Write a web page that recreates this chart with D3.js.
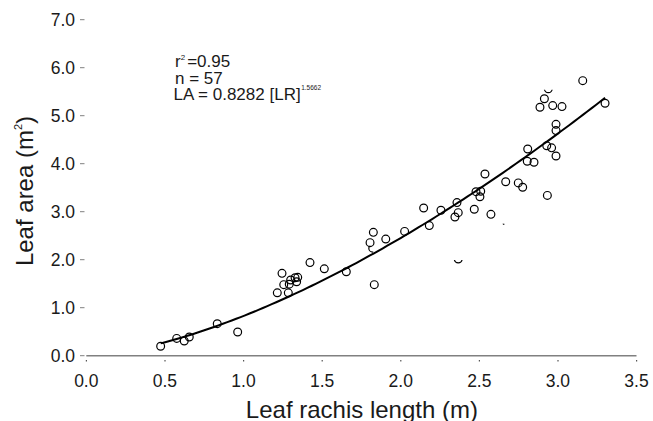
<!DOCTYPE html>
<html>
<head>
<meta charset="utf-8">
<script src="https://cdn.jsdelivr.net/npm/d3@7"></script>
<style>
  html, body { margin: 0; padding: 0; background: #fff; }
  svg { display: block; font-family: "Liberation Sans", Arial, sans-serif; }
</style>
</head>
<body>
<svg id="chart" width="653" height="421"></svg>
<script>
// Leaf rachis length (m)
const lrValues = [
  0.473, 0.575, 0.623, 0.655, 0.833, 0.963,
  1.215, 1.245, 1.256, 1.285, 1.291, 1.300, 1.328, 1.338, 1.345,
  1.423, 1.514, 1.654,
  1.826, 1.805, 1.822, 1.905, 1.832,
  2.025, 2.146, 2.182, 2.256, 2.358, 2.366, 2.345, 2.468, 2.536,
  2.479, 2.509, 2.504, 2.574, 2.668, 2.748, 2.366, 2.659,
  3.158, 2.939, 2.914, 2.886, 2.967, 3.026, 3.300,
  2.988, 2.988, 2.808, 2.929, 2.960, 2.988, 2.805, 2.848, 2.776, 2.933
];
// Leaf area (m2)
const laValues = [
  0.196, 0.360, 0.306, 0.390, 0.667, 0.494,
  1.310, 1.716, 1.480, 1.310, 1.490, 1.577, 1.625, 1.540, 1.633,
  1.940, 1.810, 1.750,
  2.570, 2.355, 2.240, 2.430, 1.480,
  2.590, 3.077, 2.710, 3.030, 3.190, 2.980, 2.890, 3.050, 3.785,
  3.417, 3.425, 3.310, 2.945, 3.625, 3.600, 2.015, 2.820,
  5.730, 5.560, 5.354, 5.175, 5.210, 5.190, 5.260,
  4.820, 4.690, 4.306, 4.375, 4.330, 4.160, 4.050, 4.030, 3.510, 3.340
];
// power fit LA = a * LR^b (coefficients printed on the chart)
const fitA = 0.8282;
const fitB = 1.5662;
const xTicks = [0.0, 0.5, 1.0, 1.5, 2.0, 2.5, 3.0, 3.5];
const yTicks = [0, 1, 2, 3, 4, 5, 6, 7];
const statLines = ["0.95", "57"];

// points that are only partly rendered in the original figure
const partialMarks = { 20: "left", 38: "bottom", 39: "speck", 41: "bottom" };

const svg = d3.select("#chart");
const x = d3.scaleLinear().domain([0, 3.5]).range([86.3, 636.5]);
const y = d3.scaleLinear().domain([0, 7]).range([355.7, 19.7]);
const textColor = "#1a1a1a";
const axisGray = "#808080";

// x axis line
svg.append("line")
  .attr("x1", x(0)).attr("x2", x(3.5))
  .attr("y1", y(0)).attr("y2", y(0))
  .attr("stroke", axisGray).attr("stroke-width", 1.6);

// x ticks (tiny dots) and labels
const xg = svg.append("g");
xg.selectAll("rect.xt").data(xTicks).join("rect")
  .attr("x", d => x(d) - 0.5).attr("y", 360).attr("width", 1.2).attr("height", 1.5)
  .attr("fill", "#555");
xg.selectAll("text").data(xTicks).join("text")
  .attr("x", d => x(d)).attr("y", 387)
  .attr("text-anchor", "middle")
  .attr("font-size", 17.5).attr("fill", textColor)
  .text(d => d3.format(".1f")(d));

// y ticks (short dashes) and labels
const yg = svg.append("g");
yg.selectAll("line").data(yTicks).join("line")
  .attr("x1", 80).attr("x2", 84.5)
  .attr("y1", d => y(d)).attr("y2", d => y(d))
  .attr("stroke", axisGray).attr("stroke-width", 1);
yg.selectAll("text").data(yTicks).join("text")
  .attr("x", 75).attr("y", d => y(d) + 6)
  .attr("text-anchor", "end")
  .attr("font-size", 17.5).attr("fill", textColor)
  .text(d => d3.format(".1f")(d));

// axis titles
svg.append("text")
  .attr("x", (x(0) + x(3.5)) / 2 + 0.5).attr("y", 418)
  .attr("text-anchor", "middle")
  .attr("font-size", 24).attr("fill", textColor)
  .text("Leaf rachis length (m)");

const yt = svg.append("text")
  .attr("transform", "translate(33,191) rotate(-90)")
  .attr("text-anchor", "middle")
  .attr("font-size", 24).attr("fill", textColor);
yt.append("tspan").text("Leaf area (m");
yt.append("tspan").attr("font-size", 11).attr("dy", -11).text("2");
yt.append("tspan").attr("dy", 11).text(")");

// fitted curve
const xs = d3.extent(lrValues);
const curvePts = d3.range(0, 101).map(i => {
  const lr = xs[0] + (xs[1] - xs[0]) * i / 100;
  return [lr, fitA * Math.pow(lr, fitB)];
});
svg.append("path")
  .datum(curvePts)
  .attr("fill", "none").attr("stroke", "#000").attr("stroke-width", 2)
  .attr("d", d3.line().x(d => x(d[0])).y(d => y(d[1])));

// points
const defs = svg.append("defs");
const r = 3.9;
const pts = svg.append("g");
lrValues.forEach((lr, i) => {
  const cx = x(lr), cy = y(laValues[i]);
  const c = pts.append("circle")
    .attr("cx", cx).attr("cy", cy).attr("r", r)
    .attr("fill", "none").attr("stroke", "#000").attr("stroke-width", 1.2);
  const kind = partialMarks[i];
  if (kind) {
    const id = "clip" + i;
    const cp = defs.append("clipPath").attr("id", id).append("rect");
    if (kind === "bottom") cp.attr("x", cx - 6).attr("y", cy + 1).attr("width", 12).attr("height", 6);
    if (kind === "left") cp.attr("x", cx - 6).attr("y", cy - 2.5).attr("width", 6.5).attr("height", 9);
    if (kind === "speck") cp.attr("x", cx - 1.5).attr("y", cy + 3).attr("width", 1.6).attr("height", 2);
    c.attr("clip-path", `url(#${id})`);
  }
});

// annotation
const ann = svg.append("g").attr("font-size", 17).attr("fill", textColor);
const t1 = ann.append("text").attr("x", 175).attr("y", 67);
t1.append("tspan").text("r");
t1.append("tspan").attr("font-size", 8).attr("dy", -7).text("2");
t1.append("tspan").attr("dy", 7).attr("dx", 2).text("=" + statLines[0]);
ann.append("text").attr("x", 175).attr("y", 83.5).text("n = " + statLines[1]);
const t3 = ann.append("text").attr("x", 173.5).attr("y", 100);
t3.append("tspan").text("LA = " + fitA + " [LR]");
t3.append("tspan").attr("font-size", 6.5).attr("dy", -10).attr("dx", 0.5).text(fitB);
</script>
</body>
</html>
